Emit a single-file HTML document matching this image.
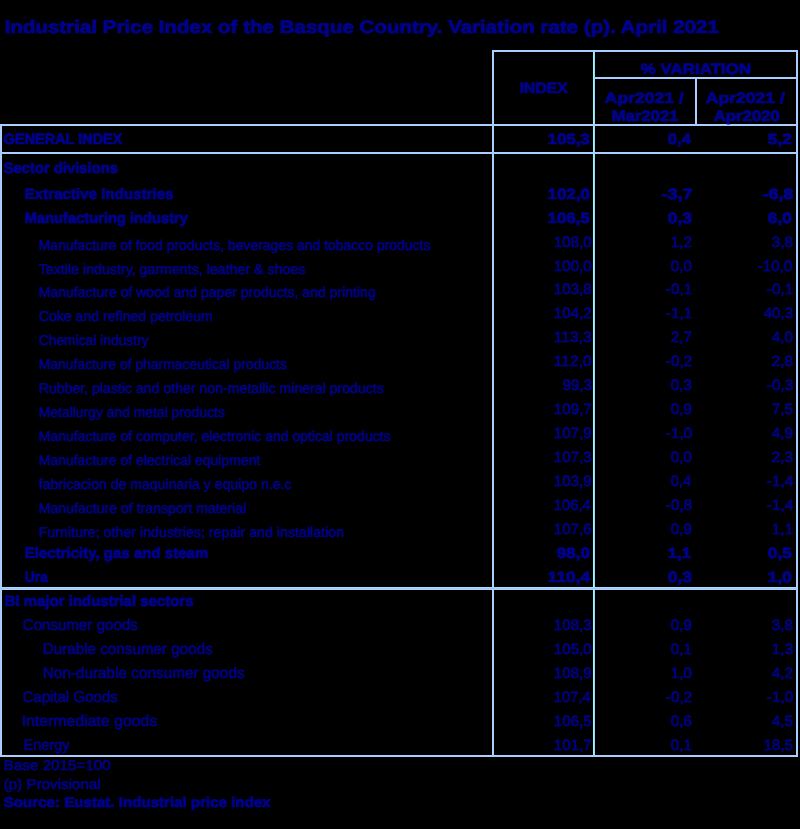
<!DOCTYPE html>
<html lang="en">
<head>
<meta charset="utf-8">
<title>Industrial Price Index of the Basque Country</title>
<style>
html,body{margin:0;padding:0;background:#000;}
body{width:800px;height:829px;position:relative;overflow:hidden;font-family:"Liberation Sans",sans-serif;color:#00008E;}
.l{position:absolute;}
.t{position:absolute;white-space:nowrap;transform-origin:0 0;line-height:20px;text-rendering:geometricPrecision;-webkit-text-stroke:0.5px #00008E;}
.b{font-weight:bold;-webkit-text-stroke-width:0.7px;}
</style>
</head>
<body>
<div class="l" style="left:0px;top:124px;width:2px;height:633px;background:#AACFFF"></div>
<div class="l" style="left:492px;top:50px;width:2px;height:707px;background:#AACFFF"></div>
<div class="l" style="left:593px;top:52px;width:1px;height:703px;background:#80FFFF"></div>
<div class="l" style="left:594px;top:52px;width:1px;height:703px;background:#AACFFF"></div>
<div class="l" style="left:695px;top:79px;width:2px;height:45px;background:#AACFFF"></div>
<div class="l" style="left:796px;top:50px;width:2px;height:707px;background:#AACFFF"></div>
<div class="l" style="left:492px;top:50px;width:306px;height:2px;background:#AACFFF"></div>
<div class="l" style="left:595px;top:77px;width:203px;height:2px;background:#AACFFF"></div>
<div class="l" style="left:0px;top:124px;width:798px;height:2px;background:#AACFFF"></div>
<div class="l" style="left:0px;top:152px;width:798px;height:2px;background:#AACFFF"></div>
<div class="l" style="left:0px;top:587px;width:798px;height:1px;background:#A8DAFF"></div>
<div class="l" style="left:0px;top:588px;width:798px;height:1px;background:#A4C8F0"></div>
<div class="l" style="left:0px;top:589px;width:798px;height:1px;background:#AED2FF"></div>
<div class="l" style="left:0px;top:755px;width:798px;height:2px;background:#AACFFF"></div>
<span class="t b" style="left:4.91px;top:17px;font-size:18.0px;transform:scaleX(1.1406)">Industrial Price Index of the Basque Country. Variation rate (p). April 2021</span>
<span class="t b" style="left:520.00px;top:79px;font-size:15.0px;transform:scaleX(1.0444)">INDEX</span>
<span class="t b" style="left:641.22px;top:60px;font-size:15.0px;transform:scaleX(1.1302)">% VARIATION</span>
<span class="t b" style="left:605.00px;top:89px;font-size:15.0px;transform:scaleX(1.1721)">Apr2021 /</span>
<span class="t b" style="left:611.73px;top:107px;font-size:15.0px;transform:scaleX(1.1128)">Mar2021</span>
<span class="t b" style="left:706.27px;top:89px;font-size:15.0px;transform:scaleX(1.1703)">Apr2021 /</span>
<span class="t b" style="left:713.74px;top:107px;font-size:15.0px;transform:scaleX(1.1160)">Apr2020</span>
<span class="t b" style="left:4.25px;top:130px;font-size:15.0px;transform:scaleX(0.9638)">GENERAL INDEX</span>
<span class="t b" style="left:4.25px;top:159px;font-size:15.0px;transform:scaleX(0.9860)">Sector divisions</span>
<span class="t b" style="left:25.00px;top:185px;font-size:15.0px;transform:scaleX(1.0091)">Extractive Industries</span>
<span class="t b" style="left:25.00px;top:209px;font-size:15.0px;transform:scaleX(0.9790)">Manufacturing industry</span>
<span class="t" style="left:38.75px;top:236px;font-size:14.2px;transform:scaleX(0.9833)">Manufacture of food products, beverages and tobacco products</span>
<span class="t" style="left:38.73px;top:260px;font-size:14.2px;transform:scaleX(1.0017)">Textile industry, garments, leather &amp; shoes</span>
<span class="t" style="left:38.75px;top:283px;font-size:14.2px;transform:scaleX(0.9889)">Manufacture of wood and paper products, and printing</span>
<span class="t" style="left:38.75px;top:307px;font-size:14.2px;transform:scaleX(0.9945)">Coke and refined petroleum</span>
<span class="t" style="left:38.75px;top:331px;font-size:14.2px;transform:scaleX(0.9747)">Chemical industry</span>
<span class="t" style="left:38.76px;top:355px;font-size:14.2px;transform:scaleX(0.9803)">Manufacture of pharmaceutical products</span>
<span class="t" style="left:38.75px;top:379px;font-size:14.2px;transform:scaleX(0.9945)">Rubber, plastic and other non-metallic mineral products</span>
<span class="t" style="left:38.75px;top:403px;font-size:14.2px;transform:scaleX(0.9796)">Metallurgy and metal products</span>
<span class="t" style="left:38.75px;top:427px;font-size:14.2px;transform:scaleX(0.9870)">Manufacture of computer, electronic and optical products</span>
<span class="t" style="left:38.75px;top:451px;font-size:14.2px;transform:scaleX(0.9858)">Manufacture of electrical equipment</span>
<span class="t" style="left:38.72px;top:475px;font-size:14.2px;transform:scaleX(0.9922)">fabricacion de maquinaria y equipo n.e.c</span>
<span class="t" style="left:38.75px;top:499px;font-size:14.2px;transform:scaleX(0.9936)">Manufacture of transport material</span>
<span class="t" style="left:38.74px;top:523px;font-size:14.2px;transform:scaleX(1.0032)">Furniture; other industries; repair and installation</span>
<span class="t b" style="left:25.00px;top:544px;font-size:15.0px;transform:scaleX(1.0023)">Electricity, gas and steam</span>
<span class="t b" style="left:25.00px;top:568px;font-size:15.0px;transform:scaleX(0.9275)">Ura</span>
<span class="t b" style="left:5.29px;top:592px;font-size:15.0px;transform:scaleX(0.9973)">BI major industrial sectors</span>
<span class="t" style="left:23.39px;top:616px;font-size:15.4px;transform:scaleX(0.9823)">Consumer goods</span>
<span class="t" style="left:42.83px;top:640px;font-size:15.4px;transform:scaleX(0.9891)">Durable consumer goods</span>
<span class="t" style="left:42.82px;top:664px;font-size:15.4px;transform:scaleX(0.9953)">Non-durable consumer goods</span>
<span class="t" style="left:23.40px;top:688px;font-size:15.4px;transform:scaleX(0.9737)">Capital Goods</span>
<span class="t" style="left:22.44px;top:712px;font-size:15.4px;transform:scaleX(1.0288)">Intermediate goods</span>
<span class="t" style="left:24.06px;top:736px;font-size:15.4px;transform:scaleX(0.9392)">Energy</span>
<span class="t" style="left:4.02px;top:756px;font-size:14.3px;transform:scaleX(1.0644)">Base 2015=100</span>
<span class="t" style="left:4.00px;top:775px;font-size:14.3px;transform:scaleX(1.0613)">(p) Provisional</span>
<span class="t b" style="left:4.00px;top:792px;font-size:14.0px;transform:scaleX(1.0790)">Source: Eustat. Industrial price index</span>
<span class="t b" style="left:547.85px;top:130px;font-size:14.9px;transform:scaleX(1.1329)">105,3</span>
<span class="t b" style="left:668.05px;top:130px;font-size:14.9px;transform:scaleX(1.1196)">0,4</span>
<span class="t b" style="left:768.37px;top:130px;font-size:14.9px;transform:scaleX(1.1729)">5,2</span>
<span class="t b" style="left:547.85px;top:185px;font-size:14.9px;transform:scaleX(1.1329)">102,0</span>
<span class="t b" style="left:662.11px;top:185px;font-size:14.9px;transform:scaleX(1.2015)">-3,7</span>
<span class="t b" style="left:762.55px;top:185px;font-size:14.9px;transform:scaleX(1.1942)">-6,8</span>
<span class="t b" style="left:547.86px;top:209px;font-size:14.9px;transform:scaleX(1.1295)">106,5</span>
<span class="t b" style="left:668.10px;top:209px;font-size:14.9px;transform:scaleX(1.1729)">0,3</span>
<span class="t b" style="left:768.37px;top:209px;font-size:14.9px;transform:scaleX(1.1729)">6,0</span>
<span class="t" style="left:553.98px;top:233px;font-size:14.9px;transform:scaleX(1.0218)">108,0</span>
<span class="t" style="left:671.00px;top:233px;font-size:14.9px;transform:scaleX(1.0349)">1,2</span>
<span class="t" style="left:772.39px;top:233px;font-size:14.9px;transform:scaleX(1.0330)">3,8</span>
<span class="t" style="left:553.98px;top:257px;font-size:14.9px;transform:scaleX(1.0218)">100,0</span>
<span class="t" style="left:671.00px;top:257px;font-size:14.9px;transform:scaleX(1.0356)">0,0</span>
<span class="t" style="left:758.05px;top:257px;font-size:14.9px;transform:scaleX(1.0203)">-10,0</span>
<span class="t" style="left:553.98px;top:280px;font-size:14.9px;transform:scaleX(1.0216)">103,8</span>
<span class="t" style="left:665.58px;top:280px;font-size:14.9px;transform:scaleX(1.0419)">-0,1</span>
<span class="t" style="left:766.95px;top:280px;font-size:14.9px;transform:scaleX(1.0419)">-0,1</span>
<span class="t" style="left:553.98px;top:304px;font-size:14.9px;transform:scaleX(1.0216)">104,2</span>
<span class="t" style="left:665.58px;top:304px;font-size:14.9px;transform:scaleX(1.0419)">-1,1</span>
<span class="t" style="left:764.41px;top:304px;font-size:14.9px;transform:scaleX(1.0088)">40,3</span>
<span class="t" style="left:553.91px;top:328px;font-size:14.9px;transform:scaleX(1.0511)">113,3</span>
<span class="t" style="left:670.99px;top:328px;font-size:14.9px;transform:scaleX(1.0330)">2,7</span>
<span class="t" style="left:772.37px;top:328px;font-size:14.9px;transform:scaleX(1.0330)">4,0</span>
<span class="t" style="left:553.94px;top:352px;font-size:14.9px;transform:scaleX(1.0504)">112,0</span>
<span class="t" style="left:665.60px;top:352px;font-size:14.9px;transform:scaleX(1.0420)">-0,2</span>
<span class="t" style="left:772.39px;top:352px;font-size:14.9px;transform:scaleX(1.0330)">2,8</span>
<span class="t" style="left:562.72px;top:376px;font-size:14.9px;transform:scaleX(1.0088)">99,3</span>
<span class="t" style="left:670.99px;top:376px;font-size:14.9px;transform:scaleX(1.0330)">0,3</span>
<span class="t" style="left:766.95px;top:376px;font-size:14.9px;transform:scaleX(1.0419)">-0,3</span>
<span class="t" style="left:553.98px;top:400px;font-size:14.9px;transform:scaleX(1.0216)">109,7</span>
<span class="t" style="left:670.99px;top:400px;font-size:14.9px;transform:scaleX(1.0330)">0,9</span>
<span class="t" style="left:772.37px;top:400px;font-size:14.9px;transform:scaleX(1.0330)">7,5</span>
<span class="t" style="left:553.98px;top:424px;font-size:14.9px;transform:scaleX(1.0216)">107,9</span>
<span class="t" style="left:665.56px;top:424px;font-size:14.9px;transform:scaleX(1.0419)">-1,0</span>
<span class="t" style="left:772.39px;top:424px;font-size:14.9px;transform:scaleX(1.0330)">4,9</span>
<span class="t" style="left:553.98px;top:448px;font-size:14.9px;transform:scaleX(1.0216)">107,3</span>
<span class="t" style="left:671.00px;top:448px;font-size:14.9px;transform:scaleX(1.0356)">0,0</span>
<span class="t" style="left:772.39px;top:448px;font-size:14.9px;transform:scaleX(1.0330)">2,3</span>
<span class="t" style="left:553.98px;top:472px;font-size:14.9px;transform:scaleX(1.0216)">103,9</span>
<span class="t" style="left:671.00px;top:472px;font-size:14.9px;transform:scaleX(0.9863)">0,4</span>
<span class="t" style="left:767.03px;top:472px;font-size:14.9px;transform:scaleX(1.0420)">-1,4</span>
<span class="t" style="left:553.98px;top:496px;font-size:14.9px;transform:scaleX(0.9943)">106,4</span>
<span class="t" style="left:665.56px;top:496px;font-size:14.9px;transform:scaleX(1.0419)">-0,8</span>
<span class="t" style="left:767.03px;top:496px;font-size:14.9px;transform:scaleX(1.0420)">-1,4</span>
<span class="t" style="left:553.98px;top:520px;font-size:14.9px;transform:scaleX(1.0216)">107,6</span>
<span class="t" style="left:670.99px;top:520px;font-size:14.9px;transform:scaleX(1.0330)">0,9</span>
<span class="t" style="left:772.37px;top:520px;font-size:14.9px;transform:scaleX(1.0374)">1,1</span>
<span class="t b" style="left:556.92px;top:544px;font-size:14.9px;transform:scaleX(1.1440)">98,0</span>
<span class="t b" style="left:668.07px;top:544px;font-size:14.9px;transform:scaleX(1.1263)">1,1</span>
<span class="t b" style="left:768.34px;top:544px;font-size:14.9px;transform:scaleX(1.1753)">0,5</span>
<span class="t b" style="left:547.88px;top:568px;font-size:14.9px;transform:scaleX(1.1612)">110,4</span>
<span class="t b" style="left:668.10px;top:568px;font-size:14.9px;transform:scaleX(1.1729)">0,3</span>
<span class="t b" style="left:768.37px;top:568px;font-size:14.9px;transform:scaleX(1.1729)">1,0</span>
<span class="t" style="left:553.98px;top:616px;font-size:14.9px;transform:scaleX(1.0216)">108,3</span>
<span class="t" style="left:670.99px;top:616px;font-size:14.9px;transform:scaleX(1.0330)">0,9</span>
<span class="t" style="left:772.39px;top:616px;font-size:14.9px;transform:scaleX(1.0330)">3,8</span>
<span class="t" style="left:553.98px;top:640px;font-size:14.9px;transform:scaleX(1.0218)">105,0</span>
<span class="t" style="left:670.99px;top:640px;font-size:14.9px;transform:scaleX(1.0330)">0,1</span>
<span class="t" style="left:772.37px;top:640px;font-size:14.9px;transform:scaleX(1.0374)">1,3</span>
<span class="t" style="left:553.98px;top:664px;font-size:14.9px;transform:scaleX(1.0216)">108,9</span>
<span class="t" style="left:670.99px;top:664px;font-size:14.9px;transform:scaleX(1.0349)">1,0</span>
<span class="t" style="left:772.40px;top:664px;font-size:14.9px;transform:scaleX(1.0330)">4,2</span>
<span class="t" style="left:553.98px;top:688px;font-size:14.9px;transform:scaleX(0.9943)">107,4</span>
<span class="t" style="left:665.60px;top:688px;font-size:14.9px;transform:scaleX(1.0420)">-0,2</span>
<span class="t" style="left:766.95px;top:688px;font-size:14.9px;transform:scaleX(1.0419)">-1,0</span>
<span class="t" style="left:553.98px;top:712px;font-size:14.9px;transform:scaleX(1.0216)">106,5</span>
<span class="t" style="left:670.99px;top:712px;font-size:14.9px;transform:scaleX(1.0330)">0,6</span>
<span class="t" style="left:772.37px;top:712px;font-size:14.9px;transform:scaleX(1.0330)">4,5</span>
<span class="t" style="left:553.98px;top:736px;font-size:14.9px;transform:scaleX(1.0216)">101,7</span>
<span class="t" style="left:670.99px;top:736px;font-size:14.9px;transform:scaleX(1.0330)">0,1</span>
<span class="t" style="left:764.41px;top:736px;font-size:14.9px;transform:scaleX(1.0075)">18,5</span>
</body>
</html>
